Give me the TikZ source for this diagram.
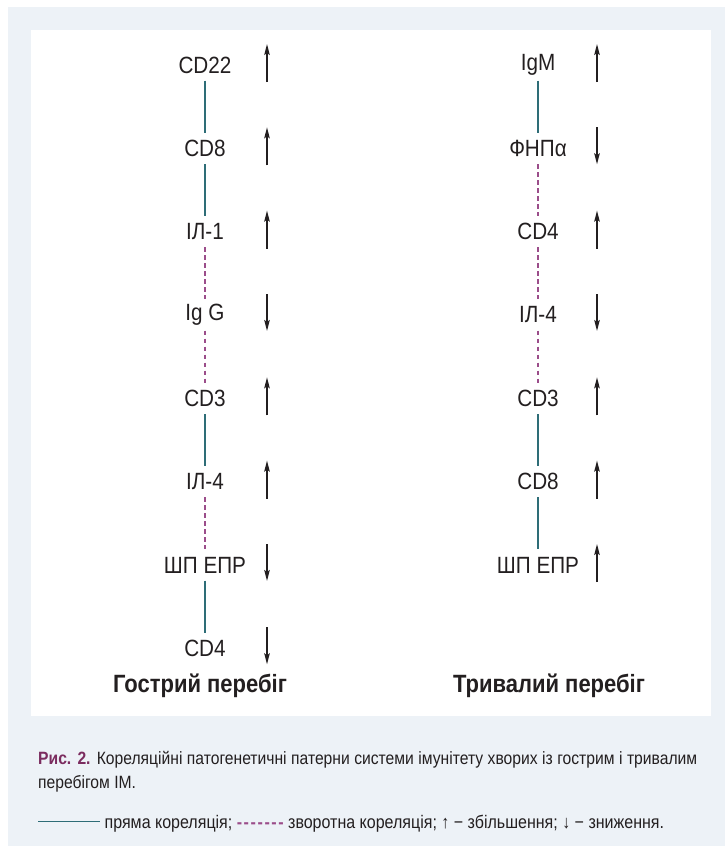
\documentclass[tikz,border=0pt]{standalone}
\usepackage{fontspec}
\setmainfont{Liberation Sans}[FakeStretch=0.88]
\usetikzlibrary{arrows.meta,calc}
\definecolor{bgc}{HTML}{EDF2F7}
\definecolor{posc}{HTML}{2E6D77}
\definecolor{negc}{HTML}{9B4D8A}
\definecolor{capc}{HTML}{7B2C5F}
\definecolor{txtc}{HTML}{231F20}
\newcommand\myup[2]{\draw[arr] ($(#1)+(#2,17)$) -- ($(#1)+(#2,-21)$);}
\newcommand\mydown[2]{\draw[arr] ($(#1)+(#2,-21)$) -- ($(#1)+(#2,16)$);}
\newcommand\dsh{-\kern1.6pt}
\begin{document}
\begin{tikzpicture}[x=1pt,y=-1pt,
  lbl/.style={inner sep=0pt,minimum height=31pt,text=txtc,font=\fontsize{23.5}{26}\selectfont},
  ttl/.style={inner sep=0pt,text=txtc,font=\bfseries\fontsize{25}{28}\selectfont},
  poscon/.style={draw=posc,line width=1.1pt},
  negcon/.style={draw=negc,line width=1.1pt,dash pattern=on 4.5pt off 3.5pt},
  arr/.style={line width=1.6pt,draw=txtc,-{Stealth[length=11pt,width=5.5pt,inset=2pt]}},
  captxt/.style={inner sep=0pt,text=txtc,text width=659pt,align=justify,font=\fontsize{17.8}{24}\selectfont},
  legtxt/.style={inner sep=0pt,text=txtc,font=\fontsize{18.2}{24}\selectfont}]
\useasboundingbox (0,0) rectangle (725,846);
\fill[bgc] (8,7) rectangle (725,846);
\fill[white] (31,30) rectangle (711,716);
% left column
\node[lbl] (l1) at (205,65) {CD22};
\node[lbl] (l2) at (205,148.3) {CD8};
\node[lbl] (l3) at (205,231.6) {ІЛ-1};
\node[lbl] (l4) at (205,315) {Ig G};
\node[lbl] (l5) at (205,398.3) {CD3};
\node[lbl] (l6) at (205,481.6) {ІЛ-4};
\node[lbl] (l7) at (205,565) {ШП ЕПР};
\node[lbl] (l8) at (205,648.3) {CD4};
\draw[poscon] (l1) -- (l2);
\draw[poscon] (l2) -- (l3);
\draw[negcon] (l3) -- (l4);
\draw[negcon] (l4) -- (l5);
\draw[poscon] (l5) -- (l6);
\draw[negcon] (l6) -- (l7);
\draw[poscon] (l7) -- (l8);
\myup{l1}{62}
\myup{l2}{62}
\myup{l3}{62}
\mydown{l4}{62}
\myup{l5}{62}
\myup{l6}{62}
\mydown{l7}{62}
\mydown{l8}{62}
% right column
\node[lbl] (r1) at (538,65) {IgM};
\node[lbl] (r2) at (538,148.3) {ФНПα};
\node[lbl] (r3) at (538,231.6) {CD4};
\node[lbl] (r4) at (538,315) {ІЛ-4};
\node[lbl] (r5) at (538,398.3) {CD3};
\node[lbl] (r6) at (538,481.6) {CD8};
\node[lbl] (r7) at (538,565) {ШП ЕПР};
\draw[poscon] (r1) -- (r2);
\draw[negcon] (r2) -- (r3);
\draw[negcon] (r3) -- (r4);
\draw[negcon] (r4) -- (r5);
\draw[poscon] (r5) -- (r6);
\draw[poscon] (r6) -- (r7);
\myup{r1}{59}
\mydown{r2}{59}
\myup{r3}{59}
\mydown{r4}{59}
\myup{r5}{59}
\myup{r6}{59}
\myup{r7}{59}
% titles
\node[ttl] (t1) at (200,686) {Гострий перебіг};
\node[ttl] (t2) at (549,686) {Тривалий перебіг};
% caption
\node[captxt,anchor=base west] (capnode) at (38,764) {\textcolor{capc}{\bfseries Рис. 2.} Кореляційні патогенетичні патерни системи імунітету хворих із гострим і тривалим перебігом ІМ.};
\node[legtxt,anchor=base west] (legnode) at (38,828) {\textcolor{posc}{\rule[0.32em]{62pt}{1.4pt}} пряма кореляція; \textcolor{negc}{\bfseries\dsh\dsh\dsh\dsh\dsh\dsh-} зворотна кореляція; ↑ − збільшення; ↓ − зниження.};
\end{tikzpicture}
\end{document}
